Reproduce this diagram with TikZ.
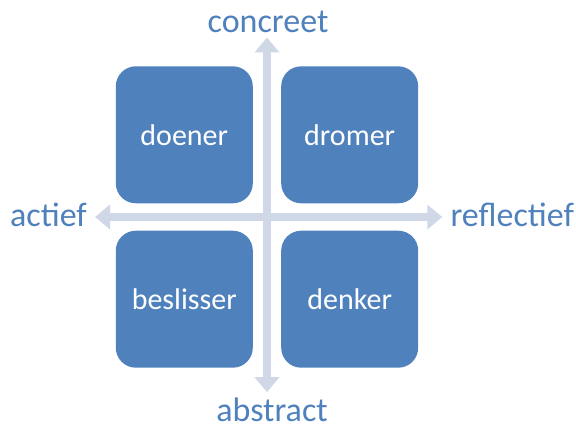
\documentclass[tikz,border=0pt]{standalone}
\usepackage{fontspec}
\setmainfont{Carlito}
\usepackage{tikz}
\usetikzlibrary{arrows.meta}
\usetikzlibrary{positioning}

\definecolor{quadblue}{RGB}{79,129,189}
\definecolor{axisgrey}{RGB}{208,216,232}

\tikzset{
  quadrant/.style={draw=none, fill=quadblue, rounded corners=20pt,
    minimum width=137pt, minimum height=137pt, text=white,
    font=\fontsize{30}{36}\selectfont},
  axislabel/.style={text=quadblue, inner sep=5pt,
    font=\fontsize{34}{41}\selectfont},
  axisarrow/.style={draw=axisgrey, line width=8pt,
    {Triangle[width=24pt,length=15pt]}-{Triangle[width=24pt,length=15pt]}}
}

\begin{document}
\begin{tikzpicture}[x=1pt, y=-1pt]
    \useasboundingbox (0,0) rectangle (576,429);

    \coordinate (c) at (267,217);
    \node [quadrant, above left=13.5pt and 14pt of c] (doener) {doener};
    \node [quadrant, above right=13.5pt and 14pt of c] (dromer) {dromer};
    \node [quadrant, below left=13.5pt and 14pt of c] (beslisser) {beslisser};
    \node [quadrant, below right=13.5pt and 14pt of c] (denker) {denker};

    \node [axislabel, anchor=base] (concreet) at (268,32) {concreet};
    \node [axislabel, anchor=base] (abstract) at (272,421) {abstract};
    \node [axislabel, anchor=base west, inner sep=2pt] (actief) at (8,226) {actief};
    \node [axislabel, anchor=base east, inner sep=2pt] (reflectief) at (576,226) {reflectief};

    \draw [axisarrow, shorten <=6pt, shorten >=6pt] (actief.east |- c) -- (reflectief.west |- c);
    \draw [axisarrow] (c |- concreet.south) -- (c |- abstract.north);
  \end{tikzpicture}
\end{document}
